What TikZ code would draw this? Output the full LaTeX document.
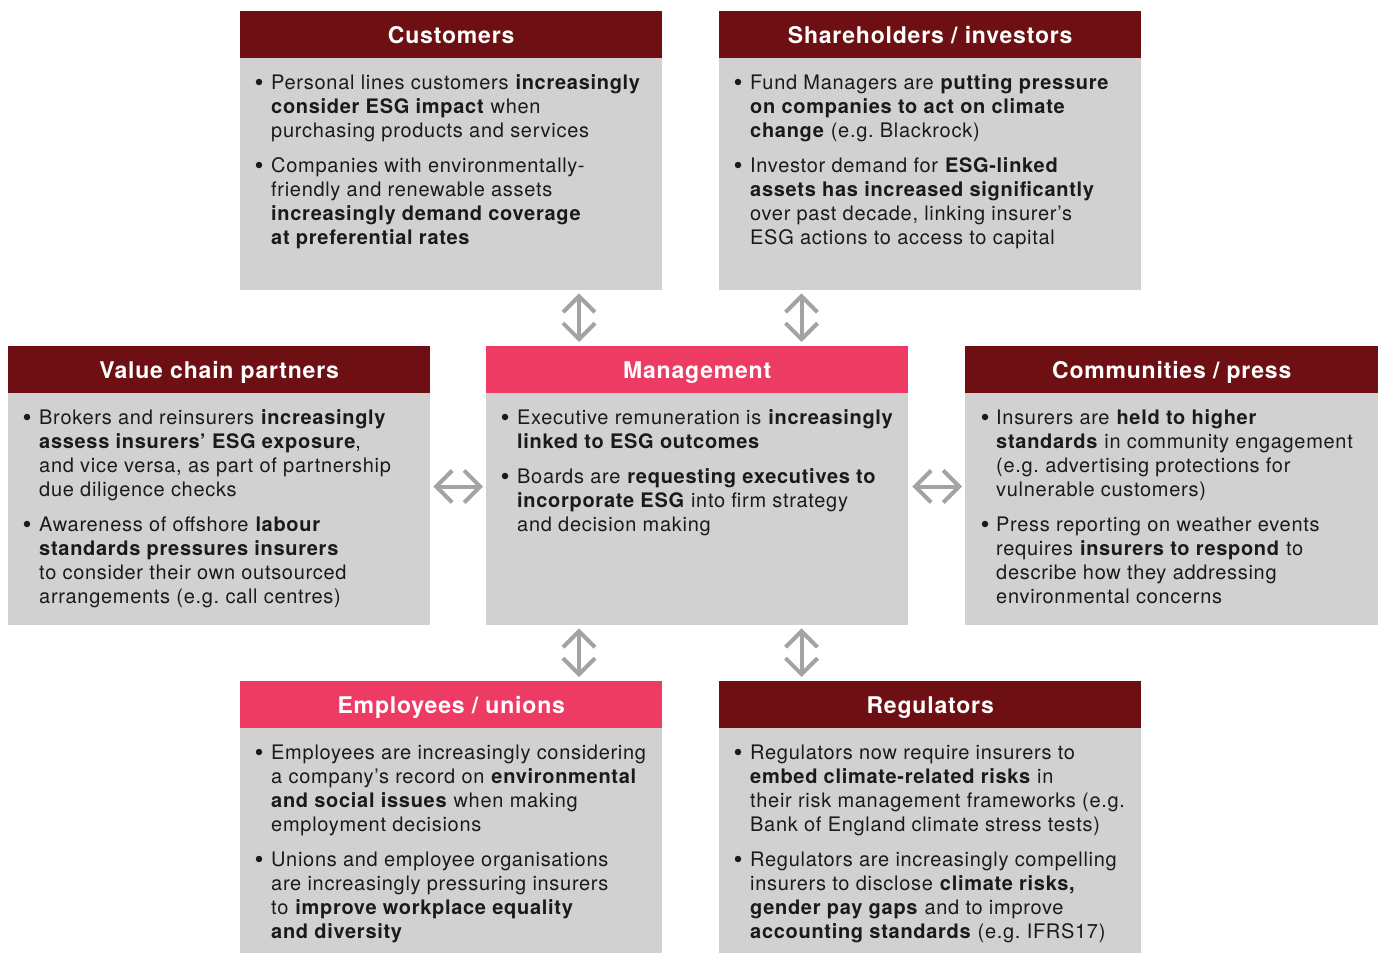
\documentclass[tikz,border=0pt]{standalone}
\usepackage{fontspec}
\setmainfont{TeX Gyre Heros}[LetterSpace=3.5]
\usetikzlibrary{arrows.meta,calc}
\frenchspacing

\definecolor{hdrdark}{HTML}{6E1013}
\definecolor{hdrpink}{HTML}{EE3B64}
\definecolor{bodygray}{HTML}{D1D1D1}
\definecolor{arrowgray}{HTML}{A3A3A3}
\definecolor{ink}{HTML}{1A1A1A}

\tikzset{
  hdr/.style={fill=hdrdark, text=white, font=\fontsize{23}{27}\selectfont\bfseries,
    minimum width=422pt, minimum height=47pt, inner sep=0pt,
    text height=19pt, text depth=2pt, anchor=north west},
  hdrhot/.style={hdr, fill=hdrpink},
  bodybox/.style={fill=bodygray, minimum width=422pt, inner sep=0pt, anchor=north west},
  bul/.style={circle, fill=ink, inner sep=0pt, minimum size=6.5pt},
  % anchored at the baseline of the last line of each item
  txt/.style={text=ink, font=\fontsize{20}{24}\selectfont\frenchspacing, align=left,
    anchor=base west, inner sep=0pt},
  dbl/.style={draw=arrowgray, line width=4pt, {Straight Barb[length=16pt,width=32pt]}-{Straight Barb[length=16pt,width=32pt]}},
}

\begin{document}
\begin{tikzpicture}[x=1pt,y=-1pt]
\path[use as bounding box] (0,0) rectangle (1378,953);

% ---------- Customers ----------
\node[hdr] (cust-h) at (240,11) {Customers};
\node[bodybox, minimum height=232pt] (cust) at (240,58) {};
\node[bul] (cust-b1) at (259,82) {};
\node[txt] (cust-t1) at (271,137) {Personal lines customers \textbf{increasingly}\\
  \textbf{consider ESG impact} when\\ purchasing products and services};
\node[bul] (cust-b2) at (259,165) {};
\node[txt] (cust-t2) at (271,244) {Companies with environmentally-\\
  friendly and renewable assets\\ \textbf{increasingly demand coverage}\\
  \textbf{at preferential rates}};

% ---------- Shareholders / investors ----------
\node[hdr] (share-h) at (719,11) {Shareholders / investors};
\node[bodybox, minimum height=232pt] (share) at (719,58) {};
\node[bul] (share-b1) at (738,82) {};
\node[txt] (share-t1) at (750,137) {Fund Managers are \textbf{putting pressure}\\
  \textbf{on companies to act on climate}\\ \textbf{change} (e.g. Blackrock)};
\node[bul] (share-b2) at (738,165) {};
\node[txt] (share-t2) at (750,244) {Investor demand for \textbf{ESG-linked}\\
  \textbf{assets has increased significantly}\\ over past decade, linking insurer’s\\
  ESG actions to access to capital};

% ---------- Value chain partners ----------
\node[hdr] (vc-h) at (8,346) {Value chain partners};
\node[bodybox, minimum height=232pt] (vc) at (8,393) {};
\node[bul] (vc-b1) at (27,417) {};
\node[txt] (vc-t1) at (39,496) {Brokers and reinsurers \textbf{increasingly}\\
  \textbf{assess insurers’ ESG exposure},\\ and vice versa, as part of partnership\\
  due diligence checks};
\node[bul] (vc-b2) at (27,524) {};
\node[txt] (vc-t2) at (39,603) {Awareness of offshore \textbf{labour}\\
  \textbf{standards pressures insurers}\\ to consider their own outsourced\\
  arrangements (e.g. call centres)};

% ---------- Management ----------
\node[hdrhot] (mgmt-h) at (486,346) {Management};
\node[bodybox, minimum height=232pt] (mgmt) at (486,393) {};
\node[bul] (mgmt-b1) at (505,417) {};
\node[txt] (mgmt-t1) at (517,448) {Executive remuneration is \textbf{increasingly}\\
  \textbf{linked to ESG outcomes}};
\node[bul] (mgmt-b2) at (505,476) {};
\node[txt] (mgmt-t2) at (517,531) {Boards are \textbf{requesting executives to}\\
  \textbf{incorporate ESG} into firm strategy\\ and decision making};

% ---------- Communities / press ----------
\node[hdr, minimum width=413pt] (comm-h) at (965,346) {Communities / press};
\node[bodybox, minimum width=413pt, minimum height=232pt] (comm) at (965,393) {};
\node[bul] (comm-b1) at (985,417) {};
\node[txt] (comm-t1) at (996,496) {Insurers are \textbf{held to higher}\\
  \textbf{standards} in community engagement\\ (e.g. advertising protections for\\
  vulnerable customers)};
\node[bul] (comm-b2) at (985,524) {};
\node[txt] (comm-t2) at (996,603) {Press reporting on weather events\\
  requires \textbf{insurers to respond} to\\ describe how they addressing\\
  environmental concerns};

% ---------- Employees / unions ----------
\node[hdrhot] (emp-h) at (240,681) {Employees / unions};
\node[bodybox, minimum height=225pt] (emp) at (240,728) {};
\node[bul] (emp-b1) at (259,752) {};
\node[txt] (emp-t1) at (271,831) {Employees are increasingly considering\\
  a company’s record on \textbf{environmental}\\ \textbf{and social issues} when making\\
  employment decisions};
\node[bul] (emp-b2) at (259,859) {};
\node[txt] (emp-t2) at (271,938) {Unions and employee organisations\\
  are increasingly pressuring insurers\\ to \textbf{improve workplace equality}\\
  \textbf{and diversity}};

% ---------- Regulators ----------
\node[hdr] (reg-h) at (719,681) {Regulators};
\node[bodybox, minimum height=225pt] (reg) at (719,728) {};
\node[bul] (reg-b1) at (738,752) {};
\node[txt] (reg-t1) at (750,831) {Regulators now require insurers to\\
  \textbf{embed climate-related risks} in\\ their risk management frameworks (e.g.\\
  Bank of England climate stress tests)};
\node[bul] (reg-b2) at (738,859) {};
\node[txt] (reg-t2) at (750,938) {Regulators are increasingly compelling\\
  insurers to disclose \textbf{climate risks,}\\ \textbf{gender pay gaps} and to improve\\
  \textbf{accounting standards} (e.g. IFRS17)};

% ---------- two-way arrows between the groups and management ----------
\draw[dbl] ($(cust.south west)+(339,3)$) -- ($(mgmt-h.north west)+(93,-4)$);
\draw[dbl] ($(share.south west)+(82.5,3)$) -- ($(mgmt-h.north west)+(315.5,-4)$);
\draw[dbl] ($(mgmt.south west)+(93,3)$) -- ($(emp-h.north west)+(339,-4)$);
\draw[dbl] ($(mgmt.south west)+(315.5,3)$) -- ($(reg-h.north west)+(82.5,-4)$);
\draw[dbl] ($(vc.north east)+(3,93.5)$) -- ($(mgmt.north west)+(-3,93.5)$);
\draw[dbl] ($(mgmt.north east)+(4,93.5)$) -- ($(comm.north west)+(-3,93.5)$);
\end{tikzpicture}
\end{document}
